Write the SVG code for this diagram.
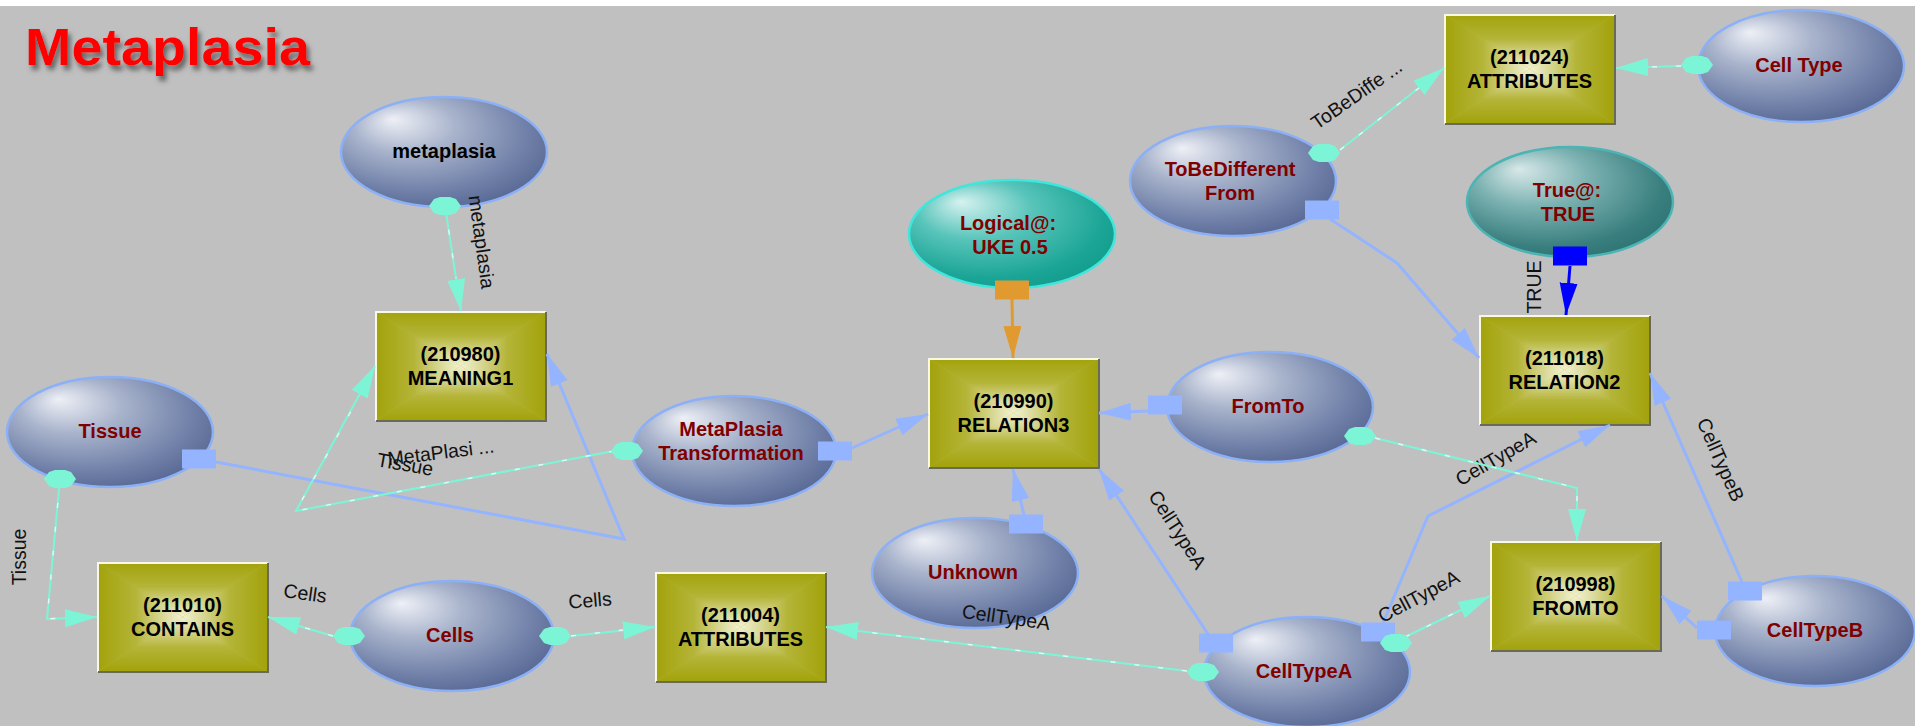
<svg xmlns="http://www.w3.org/2000/svg" xmlns:xlink="http://www.w3.org/1999/xlink" width="1915" height="726" viewBox="0 0 1915 726">
  <defs>
    <style>
      .nl{font-family:"Liberation Sans",Arial,sans-serif;font-weight:bold;font-size:20px;text-anchor:middle;fill:#800000}
      .bt{font-family:"Liberation Sans",Arial,sans-serif;font-weight:bold;font-size:20px;text-anchor:middle;fill:#000}
      .el{font-family:"Liberation Sans",Arial,sans-serif;font-size:19.5px;text-anchor:middle;fill:#111}
      .eb{fill:url(#gSlate);stroke:#8cb0f6;stroke-width:2.5}
      .et{fill:url(#gTeal);stroke:#3ee6dc;stroke-width:2.5}
      .ed{fill:url(#gDeep);stroke:#4cb4b4;stroke-width:2.5}
      .blue{fill:none;stroke:#94b4ff;stroke-width:3;marker-end:url(#aBlue)}
      .aqua{fill:none;stroke:#7cf5d6;stroke-width:2;marker-end:url(#aAqua)}
      .gl{fill:none;stroke:#ffffff;stroke-width:1.4;stroke-dasharray:5 19;opacity:0.75}
      .orng{fill:none;stroke:#e09a30;stroke-width:3;marker-end:url(#aOrng)}
      .dblu{fill:none;stroke:#0000ff;stroke-width:3;marker-end:url(#aDblu)}
      .sq{fill:#94b4ff}
      .hx{fill:#7cf5d6}
    </style>
    <!-- ellipse shading -->
    <radialGradient id="gSlate" cx="0.42" cy="0.38" r="0.7" fx="0.25" fy="0.2">
      <stop offset="0" stop-color="#eef0f6"/>
      <stop offset="0.35" stop-color="#a9b4cc"/>
      <stop offset="0.75" stop-color="#7080a8"/>
      <stop offset="1" stop-color="#52638f"/>
    </radialGradient>
    <radialGradient id="gTeal" cx="0.42" cy="0.38" r="0.7" fx="0.25" fy="0.2">
      <stop offset="0" stop-color="#d6f2f0"/>
      <stop offset="0.4" stop-color="#58c4ba"/>
      <stop offset="0.8" stop-color="#1ba596"/>
      <stop offset="1" stop-color="#109a8a"/>
    </radialGradient>
    <radialGradient id="gDeep" cx="0.42" cy="0.38" r="0.7" fx="0.25" fy="0.2">
      <stop offset="0" stop-color="#d8e8e8"/>
      <stop offset="0.4" stop-color="#7ab0b0"/>
      <stop offset="0.8" stop-color="#3a7f7f"/>
      <stop offset="1" stop-color="#2c7070"/>
    </radialGradient>
    <!-- pillow shading for the relation boxes -->
    <linearGradient id="pT" x1="0" y1="0" x2="0" y2="1">
      <stop offset="0" stop-color="#a2a20a"/>
      <stop offset="0.45" stop-color="#b4b438"/>
      <stop offset="0.8" stop-color="#dcdca0"/>
      <stop offset="1" stop-color="#f2f2d2"/>
    </linearGradient>
    <linearGradient id="pB" x1="0" y1="1" x2="0" y2="0">
      <stop offset="0" stop-color="#a2a20a"/>
      <stop offset="0.45" stop-color="#b4b438"/>
      <stop offset="0.8" stop-color="#dcdca0"/>
      <stop offset="1" stop-color="#f2f2d2"/>
    </linearGradient>
    <linearGradient id="pL" x1="0" y1="0" x2="1" y2="0">
      <stop offset="0" stop-color="#a2a20a"/>
      <stop offset="0.45" stop-color="#b4b438"/>
      <stop offset="0.8" stop-color="#dcdca0"/>
      <stop offset="1" stop-color="#f2f2d2"/>
    </linearGradient>
    <linearGradient id="pR" x1="1" y1="0" x2="0" y2="0">
      <stop offset="0" stop-color="#a2a20a"/>
      <stop offset="0.45" stop-color="#b4b438"/>
      <stop offset="0.8" stop-color="#dcdca0"/>
      <stop offset="1" stop-color="#f2f2d2"/>
    </linearGradient>
    <g id="box">
      <rect width="171" height="110" fill="#b8b840"/>
      <polygon points="0,0 171,0 85.5,55" fill="url(#pT)"/>
      <polygon points="0,110 171,110 85.5,55" fill="url(#pB)"/>
      <polygon points="0,0 0,110 85.5,55" fill="url(#pL)"/>
      <polygon points="171,0 171,110 85.5,55" fill="url(#pR)"/>
      <polyline points="1,110 1,1 171,1" fill="none" stroke="#f8f8e4" stroke-width="2"/>
      <polyline points="171,1 171,110 1,110" fill="none" stroke="#6a6a58" stroke-width="2"/>
    </g>
    <!-- connector end shapes -->
    <polygon id="hex" points="-16,0 -11,-7 -5,-9 5,-9 11,-7 16,0 11,7 5,9 -5,9 -11,7"/>
    <rect id="sqr" x="-17" y="-9.5" width="34" height="19"/>
    <marker id="aBlue" markerUnits="userSpaceOnUse" markerWidth="34" markerHeight="20" refX="32" refY="9" orient="auto">
      <path d="M0,0 L32,9 L0,18 Z" fill="#94b4ff"/>
    </marker>
    <marker id="aAqua" markerUnits="userSpaceOnUse" markerWidth="34" markerHeight="20" refX="32" refY="9" orient="auto">
      <path d="M0,0 L32,9 L0,18 Z" fill="#7cf5d6"/>
    </marker>
    <marker id="aOrng" markerUnits="userSpaceOnUse" markerWidth="34" markerHeight="20" refX="32" refY="9" orient="auto">
      <path d="M0,0 L32,9 L0,18 Z" fill="#e09a30"/>
    </marker>
    <marker id="aDblu" markerUnits="userSpaceOnUse" markerWidth="34" markerHeight="20" refX="32" refY="9" orient="auto">
      <path d="M0,0 L32,9 L0,18 Z" fill="#0000ff"/>
    </marker>
    <filter id="sh" x="-10%" y="-20%" width="130%" height="160%">
      <feDropShadow dx="3" dy="5" stdDeviation="2.5" flood-color="#505050" flood-opacity="0.8"/>
    </filter>
  </defs>

  <rect width="1915" height="726" fill="#c0c0c0"/>
  <rect width="1915" height="6" fill="#ffffff"/>

  <text x="25" y="65" font-family="'Liberation Sans',Arial,sans-serif" font-weight="bold" font-size="52" fill="#ff0000" textLength="285" lengthAdjust="spacingAndGlyphs" filter="url(#sh)">Metaplasia</text>

  <!-- nodes -->
  <g id="nodes">
    <g id="n-metaplasia">
      <ellipse class="eb" cx="444" cy="152" rx="103" ry="55"/>
      <text class="bt" x="444" y="158">metaplasia</text>
    </g>
    <g id="n-tissue">
      <ellipse class="eb" cx="110" cy="432" rx="103" ry="55"/>
      <text class="nl" x="110" y="438">Tissue</text>
    </g>
    <g id="n-metaplasia-transformation">
      <ellipse class="eb" cx="734" cy="451" rx="102" ry="55"/>
      <text class="nl" x="731" y="436">MetaPlasia</text>
      <text class="nl" x="731" y="460">Transformation</text>
    </g>
    <g id="n-logical">
      <ellipse class="et" cx="1012" cy="234" rx="103" ry="54"/>
      <text class="nl" x="1008" y="230">Logical@:</text>
      <text class="nl" x="1010" y="254">UKE 0.5</text>
    </g>
    <g id="n-tobedifferent">
      <ellipse class="eb" cx="1233" cy="181" rx="103" ry="55"/>
      <text class="nl" x="1230" y="176">ToBeDifferent</text>
      <text class="nl" x="1230" y="200">From</text>
    </g>
    <g id="n-celltype">
      <ellipse class="eb" cx="1801" cy="66" rx="103" ry="56"/>
      <text class="nl" x="1799" y="72">Cell Type</text>
    </g>
    <g id="n-true">
      <ellipse class="ed" cx="1570" cy="202" rx="103" ry="55"/>
      <text class="nl" x="1567" y="197">True@:</text>
      <text class="nl" x="1568" y="221">TRUE</text>
    </g>
    <g id="n-fromto-concept">
      <ellipse class="eb" cx="1270" cy="407" rx="103" ry="55"/>
      <text class="nl" x="1268" y="413">FromTo</text>
    </g>
    <g id="n-unknown">
      <ellipse class="eb" cx="975" cy="573" rx="103" ry="55"/>
      <text class="nl" x="973" y="579">Unknown</text>
    </g>
    <g id="n-cells">
      <ellipse class="eb" cx="452" cy="636" rx="102" ry="55"/>
      <text class="nl" x="450" y="642">Cells</text>
    </g>
    <g id="n-celltypea">
      <ellipse class="eb" cx="1307" cy="672" rx="103" ry="55"/>
      <text class="nl" x="1304" y="678">CellTypeA</text>
    </g>
    <g id="n-celltypeb">
      <ellipse class="eb" cx="1815" cy="631" rx="100" ry="55"/>
      <text class="nl" x="1815" y="637">CellTypeB</text>
    </g>

    <g id="n-210980">
      <use xlink:href="#box" x="375" y="311"/>
      <text class="bt" x="460.5" y="361">(210980)</text>
      <text class="bt" x="460.5" y="385">MEANING1</text>
    </g>
    <g id="n-211010">
      <use xlink:href="#box" x="97" y="562"/>
      <text class="bt" x="182.5" y="612">(211010)</text>
      <text class="bt" x="182.5" y="636">CONTAINS</text>
    </g>
    <g id="n-211004">
      <use xlink:href="#box" x="655" y="572"/>
      <text class="bt" x="740.5" y="622">(211004)</text>
      <text class="bt" x="740.5" y="646">ATTRIBUTES</text>
    </g>
    <g id="n-210990">
      <use xlink:href="#box" x="928" y="358"/>
      <text class="bt" x="1013.5" y="408">(210990)</text>
      <text class="bt" x="1013.5" y="432">RELATION3</text>
    </g>
    <g id="n-211024">
      <use xlink:href="#box" x="1444" y="14"/>
      <text class="bt" x="1529.5" y="64">(211024)</text>
      <text class="bt" x="1529.5" y="88">ATTRIBUTES</text>
    </g>
    <g id="n-211018">
      <use xlink:href="#box" x="1479" y="315"/>
      <text class="bt" x="1564.5" y="365">(211018)</text>
      <text class="bt" x="1564.5" y="389">RELATION2</text>
    </g>
    <g id="n-210998">
      <use xlink:href="#box" x="1490" y="541"/>
      <text class="bt" x="1575.5" y="591">(210998)</text>
      <text class="bt" x="1575.5" y="615">FROMTO</text>
    </g>
  </g>

  <!-- connectors -->
  <g id="connectors">
    <g id="e-metaplasia-meaning1">
      <path class="aqua" d="M445,206 L461,311"/>
      <path class="gl" d="M445,206 L456,278"/>
      <use xlink:href="#hex" class="hx" x="445" y="206"/>
      <text class="el" transform="translate(481,242) rotate(82)" y="6">metaplasia</text>
    </g>
    <g id="e-tissue-contains">
      <path class="aqua" d="M60,479 L47,619 L97,617"/>
      <path class="gl" d="M60,479 L47,619 L65,618"/>
      <use xlink:href="#hex" class="hx" x="60" y="479"/>
      <text class="el" transform="translate(20,557) rotate(-90)" y="6">Tissue</text>
    </g>
    <g id="e-tissue-meaning1">
      <path class="blue" d="M216,462 L624,539 L547,354"/>
      <use xlink:href="#sqr" class="sq" x="199" y="459"/>
      <text class="el" transform="translate(405,465) rotate(10)" y="6">Tissue</text>
    </g>
    <g id="e-transformation-meaning1">
      <path class="aqua" d="M614,451 L296,511 L375,366"/>
      <path class="gl" d="M614,451 L296,511 L360,395"/>
      <use xlink:href="#hex" class="hx" x="627" y="451"/>
      <text class="el" transform="translate(441,453) rotate(-7)" y="6">MetaPlasi ...</text>
    </g>
    <g id="e-transformation-relation3">
      <path class="blue" d="M852,448 L928,414"/>
      <use xlink:href="#sqr" class="sq" x="835" y="451"/>
    </g>
    <g id="e-logical-relation3">
      <path class="orng" d="M1012,299 L1013,358"/>
      <use xlink:href="#sqr" fill="#e09a30" x="1012" y="290"/>
    </g>
    <g id="e-fromto-relation3">
      <path class="blue" d="M1148,411 L1099,413"/>
      <use xlink:href="#sqr" class="sq" x="1165" y="405"/>
    </g>
    <g id="e-unknown-relation3">
      <path class="blue" d="M1024,515 L1013,469"/>
      <use xlink:href="#sqr" class="sq" x="1026" y="524"/>
    </g>
    <g id="e-celltypea-relation3">
      <path class="blue" d="M1208,634 L1099,469"/>
      <use xlink:href="#sqr" class="sq" x="1216" y="643"/>
      <text class="el" transform="translate(1177,530) rotate(57)" y="6">CellTypeA</text>
    </g>
    <g id="e-celltypea-attributes">
      <path class="aqua" d="M1187,671 L826,627"/>
      <path class="gl" d="M1187,671 L858,631"/>
      <use xlink:href="#hex" class="hx" x="1203" y="672"/>
      <text class="el" transform="translate(1006,618) rotate(8)" y="6">CellTypeA</text>
    </g>
    <g id="e-cells-attributes">
      <path class="aqua" d="M571,636 L655,627"/>
      <path class="gl" d="M571,636 L623,630"/>
      <use xlink:href="#hex" class="hx" x="555" y="636"/>
      <text class="el" transform="translate(590,601) rotate(-5)" y="6">Cells</text>
    </g>
    <g id="e-cells-contains">
      <path class="aqua" d="M333,636 L268,617"/>
      <path class="gl" d="M333,636 L299,626"/>
      <use xlink:href="#hex" class="hx" x="349" y="636"/>
      <text class="el" transform="translate(305,594) rotate(8)" y="6">Cells</text>
    </g>
    <g id="e-celltypea-relation2">
      <path class="blue" d="M1383,623 L1428,516 L1610,425"/>
      <use xlink:href="#sqr" class="sq" x="1378" y="632"/>
      <text class="el" transform="translate(1496,459) rotate(-30)" y="6">CellTypeA</text>
    </g>
    <g id="e-celltypea-fromto">
      <path class="aqua" d="M1405,637 L1490,596"/>
      <path class="gl" d="M1405,637 L1461,610"/>
      <use xlink:href="#hex" class="hx" x="1396" y="643"/>
      <text class="el" transform="translate(1419,597) rotate(-28)" y="6">CellTypeA</text>
    </g>
    <g id="e-fromto-fromto">
      <path class="aqua" d="M1375,438 L1577,488 L1577,541"/>
      <path class="gl" d="M1375,438 L1577,488 L1577,509"/>
      <use xlink:href="#hex" class="hx" x="1360" y="436"/>
    </g>
    <g id="e-celltypeb-fromto">
      <path class="blue" d="M1697,628 L1662,596"/>
      <use xlink:href="#sqr" class="sq" x="1714" y="630"/>
    </g>
    <g id="e-celltypeb-relation2">
      <path class="blue" d="M1742,582 L1650,373"/>
      <use xlink:href="#sqr" class="sq" x="1745" y="591"/>
      <text class="el" transform="translate(1720,460) rotate(66)" y="6">CellTypeB</text>
    </g>
    <g id="e-tobedifferent-relation2">
      <path class="blue" d="M1330,219 L1397,263 L1479,358"/>
      <use xlink:href="#sqr" class="sq" x="1322" y="210"/>
    </g>
    <g id="e-tobedifferent-attributes">
      <path class="aqua" d="M1340,150 L1444,68"/>
      <path class="gl" d="M1340,150 L1419,88"/>
      <use xlink:href="#hex" class="hx" x="1324" y="153"/>
      <text class="el" transform="translate(1357,95) rotate(-35)" y="6">ToBeDiffe ...</text>
    </g>
    <g id="e-celltype-attributes">
      <path class="aqua" d="M1681,66 L1616,68"/>
      <path class="gl" d="M1681,66 L1648,67"/>
      <use xlink:href="#hex" class="hx" x="1697" y="65"/>
    </g>
    <g id="e-true-relation2">
      <path class="dblu" d="M1570,266 L1566,315"/>
      <use xlink:href="#sqr" fill="#0000ff" x="1570" y="256"/>
      <text class="el" transform="translate(1535,287) rotate(-90)" y="6">TRUE</text>
    </g>
  </g>
</svg>
